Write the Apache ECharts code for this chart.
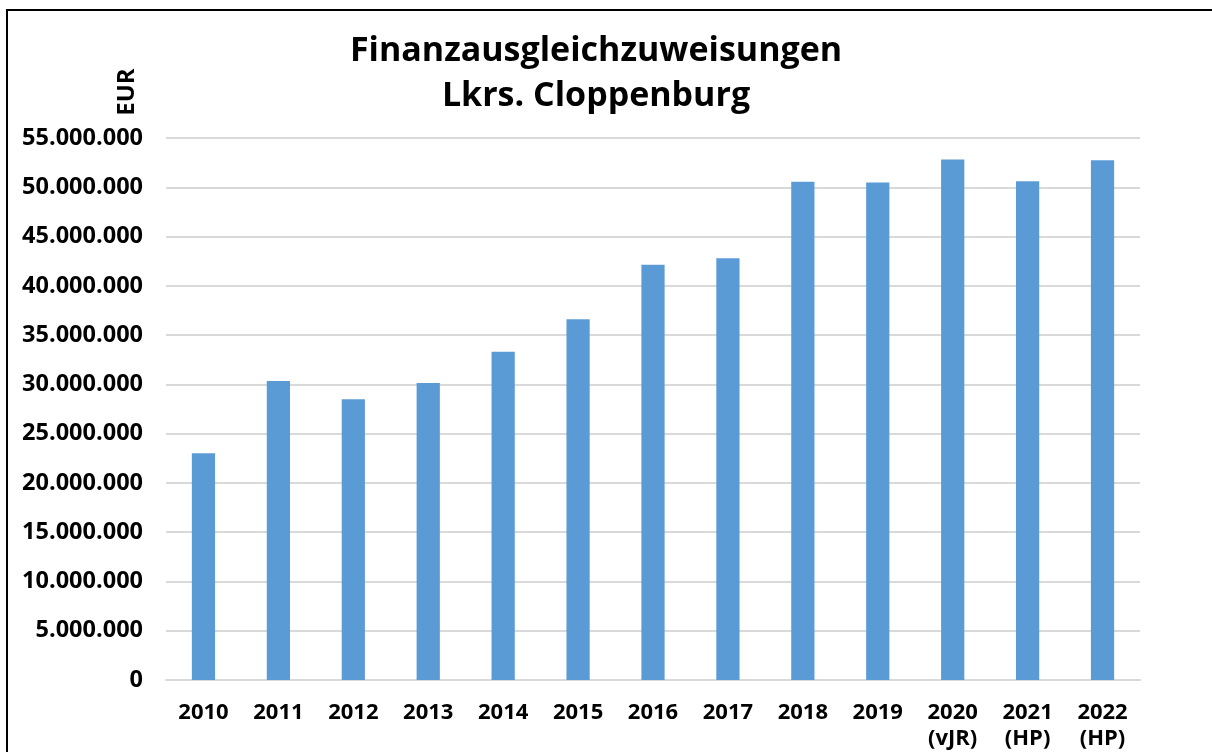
<!DOCTYPE html>
<html>
<head>
<meta charset="utf-8">
<script src="https://cdn.jsdelivr.net/npm/echarts@6/dist/echarts.min.js"></script>
<style>
  html, body { margin: 0; padding: 0; background: #fff; }
  #main { width: 1212px; height: 752px; }
</style>
</head>
<body>
<div id="main"></div>
<script>
// Jahre (Kategorien) und Zuweisungen in EUR
var years = ['2010', '2011', '2012', '2013', '2014', '2015', '2016', '2017', '2018', '2019', '2020\n(vJR)', '2021\n(HP)', '2022\n(HP)'];
var amounts = [23000000, 30330000, 28500000, 30150000, 33300000, 36620000, 42140000, 42800000, 50560000, 50480000, 52820000, 50620000, 52730000];
var yTicks = [0, 5000000, 10000000, 15000000, 20000000, 25000000, 30000000, 35000000, 40000000, 45000000, 50000000, 55000000];

var font = '"Open Sans", "Noto Sans", sans-serif';

function fmt(v) {
    return String(v).replace(/\B(?=(\d{3})+(?!\d))/g, '.');
}

var chart = echarts.init(document.getElementById('main'));
var option = {
    backgroundColor: '#fff',
    animation: false,
    title: {
        text: 'Finanzausgleichzuweisungen\nLkrs. Cloppenburg',
        left: 591,
        top: 24,
        textAlign: 'center',
        textStyle: {
            fontFamily: font,
            fontWeight: 'bold',
            fontSize: 34,
            lineHeight: 45,
            color: '#000'
        }
    },
    graphic: [
        {
            type: 'rect',
            shape: { x: 7, y: 10, width: 1300, height: 900 },
            style: { fill: 'none', stroke: '#000', lineWidth: 2 },
            silent: true
        },
        {
            type: 'text',
            x: 127,
            y: 92,
            rotation: Math.PI / 2,
            style: {
                text: 'EUR',
                fontFamily: font,
                fontWeight: 'bold',
                fontSize: 24,
                fill: '#000',
                align: 'center',
                verticalAlign: 'middle'
            }
        }
    ],
    grid: {
        left: 166,
        right: 72,
        top: 138,
        bottom: 72,
        containLabel: false
    },
    xAxis: {
        type: 'category',
        data: years,
        axisTick: { show: false },
        axisLine: { lineStyle: { color: '#d9d9d9', width: 2 } },
        axisLabel: {
            margin: 20,
            fontFamily: font,
            fontWeight: 'bold',
            fontSize: 22,
            lineHeight: 26,
            color: '#000'
        }
    },
    yAxis: {
        type: 'value',
        min: yTicks[0],
        max: yTicks[yTicks.length - 1],
        interval: yTicks[1] - yTicks[0],
        axisLine: { show: false },
        axisTick: { show: false },
        splitLine: { lineStyle: { color: '#d9d9d9', width: 2 } },
        axisLabel: {
            margin: 23,
            fontFamily: font,
            fontWeight: 'bold',
            fontSize: 23.5,
            color: '#000',
            formatter: fmt
        }
    },
    series: [{
        type: 'bar',
        data: amounts,
        barWidth: '31%',
        itemStyle: { color: '#5b9bd5' }
    }]
};
chart.setOption(option);
</script>
</body>
</html>
